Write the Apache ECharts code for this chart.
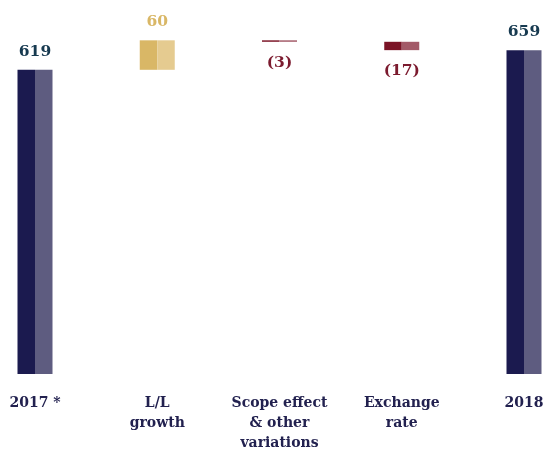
<!DOCTYPE html>
<html><head><meta charset="utf-8">
<script src="https://cdn.jsdelivr.net/npm/echarts@6/dist/echarts.min.js"></script>
<style>html,body{margin:0;padding:0;background:#fff}#c{width:546px;height:449px}</style>
</head><body><div id="c"></div>
<script>
var categories = ['2017 *', 'L/L\ngrowth', 'Scope effect\n& other\nvariations', 'Exchange\nrate', '2018'];
var values = [619, 60, -3, -17, 659];
var isTotal = [true, false, false, false, true];
var labels = ['619', '60', '(3)', '(17)', '659'];

var colDark = {total: '#1b1a4f', pos: '#d9b766', neg: '#7b1426'};
var colLight = {total: '#5e5c80', pos: '#e5cb90', neg: '#a35a68'};
var labelCol = {total: '#173a50', pos: '#d9b766', neg: '#7b1a2e'};

var base = [], heights = [], kinds = [], labelPts = [];
var run = 0;
for (var i = 0; i < values.length; i++) {
  var v = values[i], k;
  if (isTotal[i]) { base.push(0); heights.push(v); run = v; k = 'total'; labelPts.push({value: v, pos: 'top'}); }
  else if (v >= 0) { base.push(run); heights.push(v); run += v; k = 'pos'; labelPts.push({value: run, pos: 'top'}); }
  else { run += v; base.push(run); heights.push(-v); k = 'neg'; labelPts.push({value: run, pos: 'bottom'}); }
  kinds.push(k);
}
var font = '"DejaVu Serif", serif';
function valSeries(stack, pal) {
  return {type: 'bar', stack: stack, barWidth: 17.5, barGap: '0%', silent: true,
    data: heights.map(function (h, i) { return {value: h, itemStyle: {color: pal[kinds[i]]}}; })};
}
function baseSeries(stack) {
  return {type: 'bar', stack: stack, barWidth: 17.5, barGap: '0%', silent: true,
    itemStyle: {color: 'transparent'}, data: base.slice()};
}
var chart = echarts.init(document.getElementById('c'), null, {renderer: 'canvas'});
chart.setOption({
  animation: false,
  grid: {left: 35, right: 22, top: 30, bottom: 75, containLabel: false, outerBoundsMode: 'none'},
  xAxis: {type: 'category', data: categories, boundaryGap: false,
    axisLine: {show: false}, axisTick: {show: false},
    axisLabel: {interval: 0, margin: 19, color: '#22214f', fontFamily: font, fontWeight: 'bold', fontSize: 14, lineHeight: 20}},
  yAxis: {type: 'value', min: 0, max: 700, show: false, splitLine: {show: false}},
  series: [
    baseSeries('L'), valSeries('L', colDark),
    baseSeries('R'), valSeries('R', colLight),
    {type: 'scatter', symbolSize: 0, silent: true, itemStyle: {opacity: 1},
      data: labelPts.map(function (p, i) {
        return {value: p.value, label: {show: true, position: p.pos, distance: p.pos === 'top' ? 10 : 13, formatter: labels[i],
          color: labelCol[kinds[i]], fontFamily: font, fontWeight: 'bold', fontSize: 15.5}};
      })}
  ]
});
</script></body></html>
